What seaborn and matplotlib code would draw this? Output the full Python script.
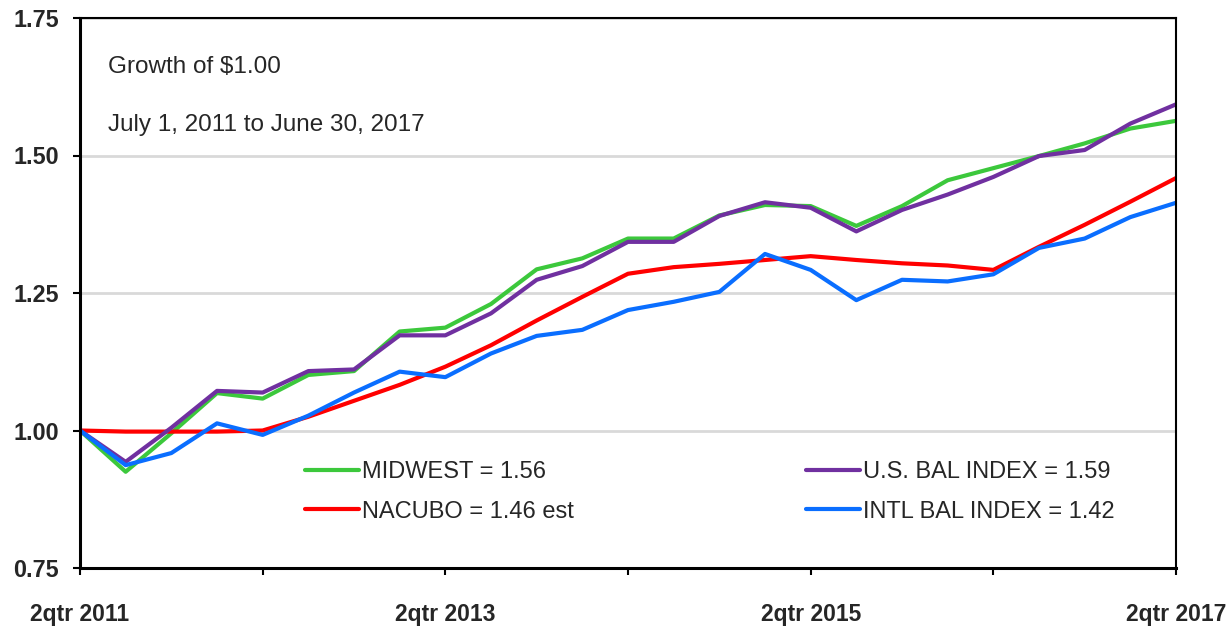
import numpy as np
import pandas as pd
import matplotlib
matplotlib.use("Agg")
import matplotlib.pyplot as plt
import seaborn as sns

# quarter index 0 = 2qtr 2011 ... 24 = 2qtr 2017
quarters = list(range(25))
tick_pos = [0, 4, 8, 12, 16, 20, 24]
tick_labels = ["2qtr 2011", "", "2qtr 2013", "", "2qtr 2015", "", "2qtr 2017"]

midwest = [1.000, 0.925, 0.995, 1.068, 1.058, 1.101, 1.108, 1.180, 1.187, 1.230, 1.293, 1.313,
           1.349, 1.349, 1.391, 1.410, 1.408, 1.372, 1.408, 1.455, 1.477, 1.499, 1.522, 1.549, 1.563]
nacubo = [1.000, 0.998, 0.998, 0.998, 1.000, 1.025, 1.054, 1.083, 1.116, 1.155, 1.200, 1.243,
          1.285, 1.297, 1.303, 1.310, 1.317, 1.310, 1.304, 1.300, 1.292, 1.334, 1.374, 1.416, 1.459]
us_bal = [1.000, 0.943, 1.005, 1.072, 1.069, 1.108, 1.111, 1.173, 1.173, 1.213, 1.274, 1.299,
          1.343, 1.343, 1.390, 1.415, 1.405, 1.362, 1.401, 1.429, 1.461, 1.499, 1.510, 1.558, 1.593]
intl_bal = [1.000, 0.937, 0.959, 1.013, 0.992, 1.027, 1.069, 1.107, 1.097, 1.140, 1.172, 1.183,
            1.219, 1.234, 1.252, 1.321, 1.292, 1.237, 1.274, 1.271, 1.284, 1.332, 1.349, 1.388, 1.414]

names = ["MIDWEST = 1.56", "NACUBO = 1.46 est", "U.S. BAL INDEX = 1.59", "INTL BAL INDEX = 1.42"]
colors = ["#3cc83c", "#ff0000", "#7030a0", "#0a6eff"]

df = pd.DataFrame({
    "q": quarters * 4,
    "value": midwest + nacubo + us_bal + intl_bal,
    "series": sum([[n] * len(quarters) for n in names], []),
})

sns.set_style("white")
plt.rcParams["font.family"] = ["Liberation Sans", "DejaVu Sans"]

fig = plt.figure(figsize=(12.26, 6.26), dpi=100)
ax = fig.add_axes([80 / 1226, 58 / 626, 1096 / 1226, 550 / 626])

sns.lineplot(data=df, x="q", y="value", hue="series", hue_order=names,
             palette=colors, linewidth=3, ax=ax)

ax.set_xlim(0, 24)
ax.set_ylim(0.75, 1.75)
ax.set_yticks([0.75, 1.00, 1.25, 1.50, 1.75])
ax.set_yticklabels(["0.75", "1.00", "1.25", "1.50", "1.75"], fontsize=16.8, fontweight="bold")
ax.set_xticks(tick_pos)
ax.set_xticklabels(tick_labels, fontsize=16.5, fontweight="bold")
ax.tick_params(axis="y", direction="out", length=5, width=1.5, color="black", pad=10, left=True)
ax.tick_params(axis="x", direction="out", length=5, width=1.5, color="black", pad=20, bottom=True)
ax.set_xlabel("")
ax.set_ylabel("")

ax.yaxis.grid(True, color="#d9d9d9", linewidth=2)
ax.xaxis.grid(False)
ax.set_axisbelow(True)

for side in ["left", "bottom"]:
    ax.spines[side].set_color("black")
    ax.spines[side].set_linewidth(2.2)
for side in ["top", "right"]:
    ax.spines[side].set_color("black")
    ax.spines[side].set_linewidth(1.5)

ax.text(108 / 1226, 1 - 67 / 626, "Growth of $1.00", transform=fig.transFigure,
        fontsize=17.5, va="center", ha="left")
ax.text(108 / 1226, 1 - 125 / 626, "July 1, 2011 to June 30, 2017", transform=fig.transFigure,
        fontsize=17.5, va="center", ha="left")

handles, labels = ax.get_legend_handles_labels()
ax.get_legend().remove()
leg = fig.legend(handles, labels, ncol=2, loc="upper left",
                 bbox_to_anchor=(305 / 1226, 1 - 461 / 626), frameon=False,
                 fontsize=17, handlelength=2.3, handletextpad=0.1,
                 columnspacing=9.85, labelspacing=0.75, borderpad=0, borderaxespad=0)
for h in leg.get_lines():
    h.set_linewidth(3)

fig.savefig("out.png", dpi=100)
